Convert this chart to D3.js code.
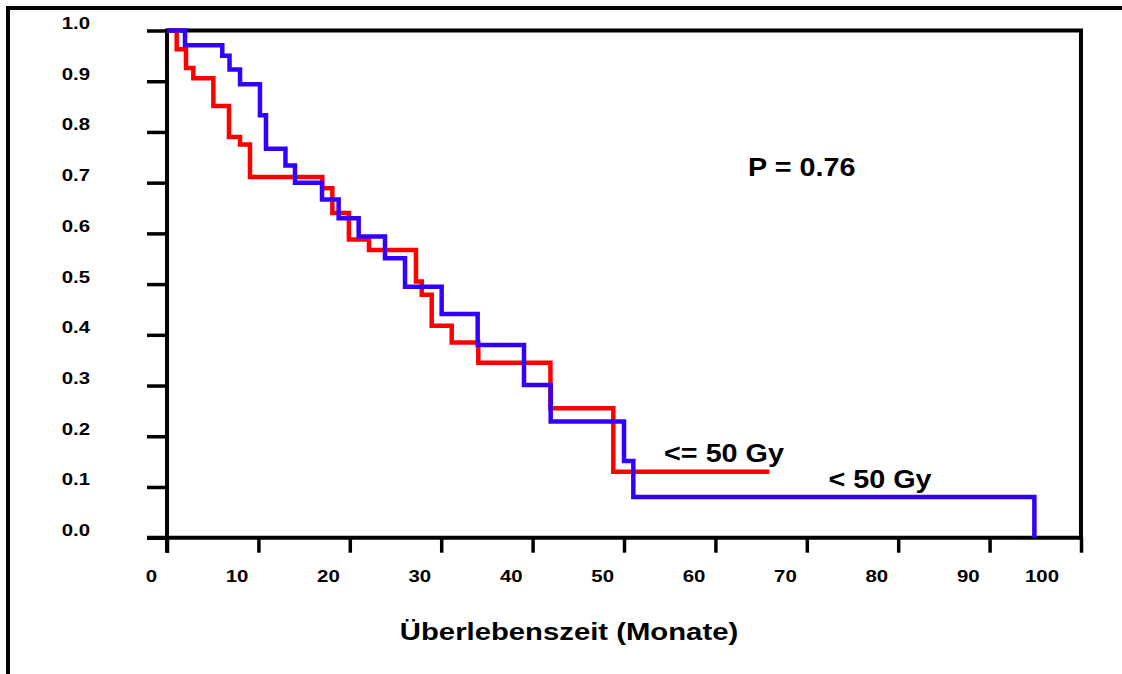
<!DOCTYPE html>
<html>
<head>
<meta charset="utf-8">
<script src="https://cdn.jsdelivr.net/npm/d3@7"></script>
<style>
  html, body { margin: 0; padding: 0; background: #fff; }
  svg { display: block; }
  text { font-family: "Liberation Sans", Arial, sans-serif; font-weight: bold; fill: #000; }
</style>
</head>
<body>
<svg id="chart" width="1122" height="674"></svg>
<script>
// ---- data ----
const xTickValues = [0, 10, 20, 30, 40, 50, 60, 70, 80, 90, 100];
const xTickLabels = ["0", "10", "20", "30", "40", "50", "60", "70", "80", "90", "100"];
const yTickValues = [0, 0.1, 0.2, 0.3, 0.4, 0.5, 0.6, 0.7, 0.8, 0.9, 1.0];
const yTickLabels = ["0.0", "0.1", "0.2", "0.3", "0.4", "0.5", "0.6", "0.7", "0.8", "0.9", "1.0"];

// "<= 50 Gy" (red): step times (months) and survival from that time on
const redTimes = [0, 1.06, 2.08, 2.88, 5.07, 6.78, 7.99, 9.08, 16.99, 18.09, 19.9, 22.1, 27.24, 27.87, 28.96, 31.15, 34.06, 41.95, 48.83, 65.9];
const redSurv  = [1.0, 0.963, 0.926, 0.906, 0.851, 0.790, 0.775, 0.711, 0.689, 0.640, 0.588, 0.567, 0.505, 0.479, 0.418, 0.385, 0.345, 0.255, 0.130, 0.130];

// "< 50 Gy" (blue)
const blueTimes = [0, 1.97, 6.05, 6.84, 7.99, 10.17, 10.83, 12.96, 14.0, 16.96, 18.78, 20.97, 23.85, 26.04, 30.05, 33.99, 39.06, 41.98, 50.0, 51.02, 94.9];
const blueSurv  = [1.0, 0.971, 0.950, 0.923, 0.894, 0.833, 0.767, 0.734, 0.700, 0.667, 0.630, 0.594, 0.551, 0.495, 0.441, 0.380, 0.301, 0.229, 0.151, 0.080, 0.0];

const seriesNames = ["<= 50 Gy", "< 50 Gy"];
const pText = "P = 0.76";
const xTitle = "Überlebenszeit (Monate)";

// ---- layout ----
const svg = d3.select("#chart");
const x = d3.scaleLinear().domain([0, 100]).range([167, 1081]);
const y = d3.scaleLinear().domain([0, 1]).range([537.7, 30.5]);

// outer frame (top and left lines)
svg.append("path")
  .attr("d", `M8,674 L8,8 L1122,8`)
  .attr("fill", "none").attr("stroke", "#000").attr("stroke-width", 4);

// plot box top & right
svg.append("path")
  .attr("d", `M${x(0)},${y(1)} L${x(100)},${y(1)} L${x(100)},${y(0)}`)
  .attr("fill", "none").attr("stroke", "#000").attr("stroke-width", 4)
  .attr("stroke-linecap", "square");

// axes
const yAxis = d3.axisLeft(y).tickValues(yTickValues).tickSize(20).tickSizeOuter(0).tickFormat("");
const gy = svg.append("g").attr("transform", `translate(${x(0)},0)`).call(yAxis);
const xAxis = d3.axisBottom(x).tickValues(xTickValues).tickSize(15).tickSizeOuter(0).tickFormat("");
const gx = svg.append("g").attr("transform", `translate(0,${y(0)})`).call(xAxis);
[gx, gy].forEach(g => {
  g.select(".domain").attr("stroke", "#000").attr("stroke-width", 4);
  g.selectAll(".tick line").attr("stroke", "#000").attr("stroke-width", 3.5);
});
gy.select(".domain").attr("d", `M0,${y(1)}V${y(0) + 15}`);
gx.select(".domain").attr("d", `M${x(0) - 20},0H${x(100)}`);

// tick labels (horizontally stretched like the original)
const sx = 1.2;
svg.append("g").selectAll("text").data(yTickValues).join("text")
  .attr("transform", d => `translate(90,${y(d) - 1.5}) scale(${sx},1)`)
  .attr("text-anchor", "end")
  .style("font-size", "17px")
  .text((d, i) => yTickLabels[i]);

svg.append("g").selectAll("text").data(xTickValues).join("text")
  .attr("transform", (d, i) => `translate(${x(d) - (i === xTickValues.length - 1 ? 22 : 10)},581.5) scale(${sx},1)`)
  .attr("text-anchor", "end")
  .style("font-size", "17px")
  .text((d, i) => xTickLabels[i]);

// curves
const line = d3.line().x(d => x(d[0])).y(d => y(d[1])).curve(d3.curveStepAfter);
const redData = redTimes.map((t, i) => [t, redSurv[i]]);
const blueData = blueTimes.map((t, i) => [t, blueSurv[i]]);
svg.append("path").datum(redData).attr("d", line)
  .attr("fill", "none").attr("stroke", "#ff0000").attr("stroke-width", 4.5);
svg.append("path").datum(blueData).attr("d", line)
  .attr("fill", "none").attr("stroke", "#3300ff").attr("stroke-width", 4.5);

// annotations
function label(txt, cx, baseline, size, scale) {
  svg.append("text")
    .attr("transform", `translate(${cx},${baseline}) scale(${scale},1)`)
    .attr("text-anchor", "middle")
    .style("font-size", size + "px")
    .text(txt);
}
label(pText, 801.7, 176, 25, 1.15);
label(seriesNames[0], 724, 462, 25, 1.15);
label(seriesNames[1], 880, 487.5, 25, 1.15);
label(xTitle, 569, 640, 24, 1.22);
</script>
</body>
</html>
